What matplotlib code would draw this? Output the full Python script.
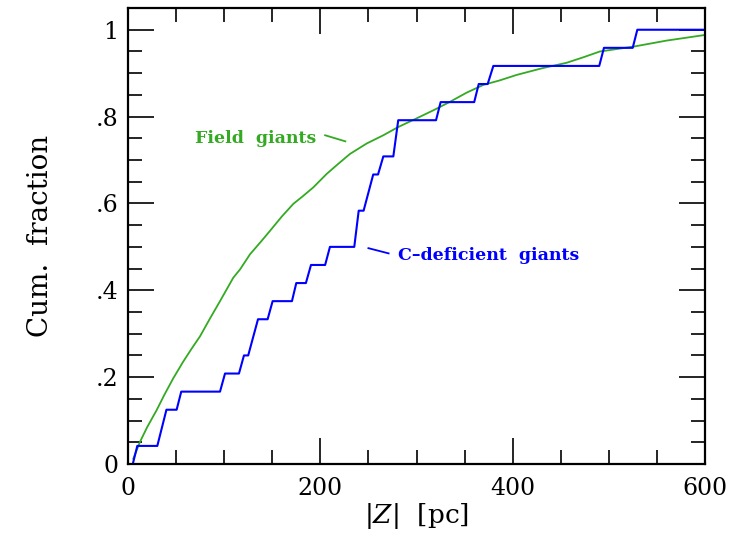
import matplotlib
matplotlib.use("Agg")
import matplotlib.pyplot as plt
from matplotlib.ticker import MultipleLocator

plt.rcParams["font.family"] = "DejaVu Serif"
plt.rcParams["mathtext.fontset"] = "dejavuserif"

# C-deficient giants: cumulative step curve (24 stars), vertices
z_cdef = [5, 9.7, 30.5, 40, 50.6, 55.4, 95.7, 100.9, 115.4, 120.6, 125, 135.2, 145.2, 150.4,
          170.5, 175, 185, 190.3, 205, 210, 235.3, 239.9, 245, 255, 260, 265.5, 275.9, 281,
          320.3, 325.1, 360, 364.7, 374, 379.9, 490, 494.9, 524.8, 529.6, 600]
f_cdef = [0, 1/24, 1/24, 3/24, 3/24, 4/24, 4/24, 5/24, 5/24, 6/24, 6/24, 8/24, 8/24, 9/24,
          9/24, 10/24, 10/24, 11/24, 11/24, 12/24, 12/24, 14/24, 14/24, 16/24, 16/24, 17/24,
          17/24, 19/24, 19/24, 20/24, 20/24, 21/24, 21/24, 22/24, 22/24, 23/24, 23/24, 1, 1]

# Field giants: cumulative curve
z_field = [5.5, 12.5, 20, 29.8, 38, 47, 57.5, 66, 74.9, 85, 95.7, 109.5, 116.5, 126.9, 139,
           147.7, 160, 171.9, 182, 192.7, 206.6, 218, 230.8, 248.2, 265.5, 281, 300.2, 318,
           334.8, 352, 369.5, 386, 404.2, 430, 456.2, 474, 490.8, 525.4, 560, 600]
f_field = [0.012, 0.051, 0.085, 0.124, 0.16, 0.197, 0.236, 0.265, 0.294, 0.334, 0.375, 0.429,
           0.448, 0.483, 0.514, 0.537, 0.57, 0.599, 0.617, 0.637, 0.668, 0.69, 0.714, 0.738,
           0.757, 0.776, 0.796, 0.815, 0.834, 0.855, 0.873, 0.883, 0.896, 0.911, 0.924, 0.937,
           0.95, 0.961, 0.975, 0.988]

ytick_vals = [0, 0.2, 0.4, 0.6, 0.8, 1.0]
ytick_labels = ["0", ".2", ".4", ".6", ".8", "1"]

fig = plt.figure(figsize=(7.3, 5.35), dpi=100)
ax = fig.add_axes([0.1753, 0.1327, 0.7905, 0.8523])

ax.plot(z_field, f_field, color="#33aa22", lw=1.3)
ax.plot(z_cdef, f_cdef, color="#0000ff", lw=1.5)

ax.set_xlim(0, 600)
ax.set_ylim(0, 1.05)
ax.xaxis.set_major_locator(MultipleLocator(200))
ax.xaxis.set_minor_locator(MultipleLocator(50))
ax.set_yticks(ytick_vals)
ax.set_yticklabels(ytick_labels)
ax.yaxis.set_minor_locator(MultipleLocator(0.05))
ax.tick_params(which="both", direction="in", top=True, right=True, width=1.2, labelsize=17)
ax.tick_params(which="major", length=19)
ax.tick_params(which="minor", length=10)
ax.tick_params(axis="x", pad=9)
ax.tick_params(axis="y", pad=7)
for s in ax.spines.values():
    s.set_linewidth(1.6)

ax.set_xlabel("$|Z|$  [pc]", fontsize=19, labelpad=1)
ax.set_ylabel("Cum.  fraction", fontsize=20, labelpad=30)

ax.text(196, 0.75, "Field  giants", color="#33aa22", fontsize=12.5, fontweight="bold",
        ha="right", va="center")
ax.plot([205, 226], [0.757, 0.743], color="#33aa22", lw=1.3)
ax.text(281, 0.48, "C\u2013deficient  giants", color="#0000ff", fontsize=12.5, fontweight="bold",
        ha="left", va="center")
ax.plot([250, 271], [0.497, 0.485], color="#0000ff", lw=1.3)

fig.savefig("out.png", dpi=100)
